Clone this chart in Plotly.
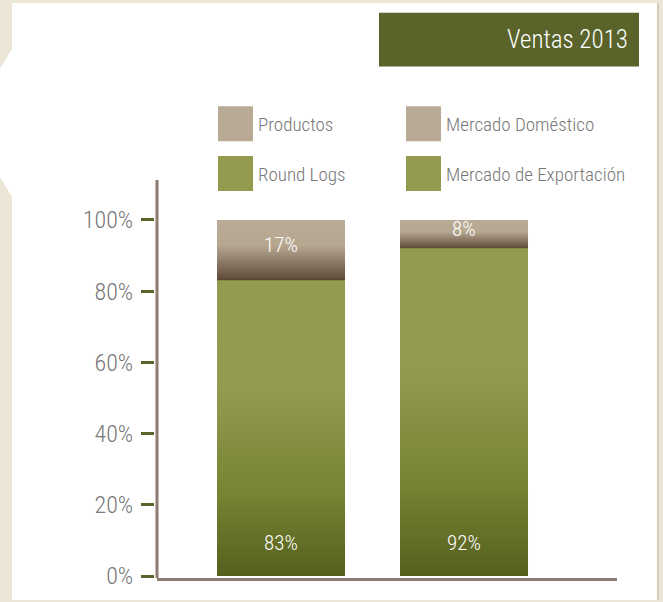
import base64
import plotly.graph_objects as go

# ---------------------------------------------------------------------------
# data
# ---------------------------------------------------------------------------
bar_pos = [0, 1]
base_names = ["Round Logs", "Mercado de Exportación"]
base_vals = [83, 92]
top_names = ["Productos", "Mercado Doméstico"]
top_vals = [17, 8]
y_ticks = [0, 20, 40, 60, 80, 100]
y_ticktext = ["0%", "20%", "40%", "60%", "80%", "100%"]
title_text = "Ventas 2013"

# ---------------------------------------------------------------------------
# style
# ---------------------------------------------------------------------------
W, H = 663, 602
ML, MR, MT, MB = 100, 46, 180, 22
PW, PH = W - ML - MR, H - MT - MB
FONT = "Roboto Condensed, Liberation Sans Narrow, DejaVu Sans Condensed, Roboto, sans-serif"
GREEN = "#939a4e"
BROWN = "#b9aa95"
OLIVE = "#59632a"
AXIS = "#8b7b70"
GREY = "#777777"
BEIGE = "#ece6d7"
BAR_W = 0.70


def px_x(x):
    return (x - ML) / PW


def px_y(y):
    return (H - MB - y) / PH


def gradient_svg(stops):
    s = "".join(f'<stop offset="{o}" stop-color="{c}"/>' for o, c in stops)
    svg = ('<svg xmlns="http://www.w3.org/2000/svg" width="10" height="100" '
           'preserveAspectRatio="none"><defs><linearGradient id="g" x1="0" y1="0" x2="0" y2="1">'
           f'{s}</linearGradient></defs><rect width="10" height="100" fill="url(#g)"/></svg>')
    return "data:image/svg+xml;base64," + base64.b64encode(svg.encode()).decode()


GREEN_GRAD = gradient_svg([(0, "#949b50"), (0.38, "#929a4e"), (0.72, "#788333"), (1, "#55601e")])
BROWN_GRAD = gradient_svg([(0, "#baab96"), (0.42, "#b6a791"), (0.97, "#624d3d"), (1, "#4e3b2e")])

fig = go.Figure()
for i in range(len(bar_pos)):
    fig.add_trace(go.Bar(x=[bar_pos[i]], y=[base_vals[i]], name=base_names[i],
                         width=BAR_W, marker=dict(color=GREEN, line=dict(width=0)),
                         hoverinfo="name+y"))
    fig.add_trace(go.Bar(x=[bar_pos[i]], y=[top_vals[i]], name=top_names[i],
                         width=BAR_W, marker=dict(color=BROWN, line=dict(width=0)),
                         hoverinfo="name+y"))

# gradient skins laid over the bars (same data coordinates)
images = []
for i in range(len(bar_pos)):
    images.append(dict(source=GREEN_GRAD, xref="x", yref="y", x=bar_pos[i] - BAR_W / 2,
                       y=base_vals[i], sizex=BAR_W, sizey=base_vals[i],
                       sizing="stretch", layer="above", xanchor="left", yanchor="top"))
    images.append(dict(source=BROWN_GRAD, xref="x", yref="y", x=bar_pos[i] - BAR_W / 2,
                       y=base_vals[i] + top_vals[i], sizex=BAR_W, sizey=top_vals[i],
                       sizing="stretch", layer="above", xanchor="left", yanchor="top"))

LIGHT = dict(family=FONT, weight=300)

annotations = []
for i in range(len(bar_pos)):
    annotations.append(dict(x=bar_pos[i], y=0, xref="x", yref="y", yshift=33,
                            text=f"{base_vals[i]}%", showarrow=False, yanchor="middle",
                            font=dict(**LIGHT, size=21, color="white")))
    annotations.append(dict(x=bar_pos[i], y=base_vals[i] + top_vals[i] / 2, xref="x", yref="y",
                            yshift=5, text=f"{top_vals[i]}%", showarrow=False, yanchor="middle",
                            font=dict(**LIGHT, size=21, color="white")))

# title box
annotations.append(dict(x=px_x(630), y=px_y(39), xref="paper", yref="paper", text=title_text,
                        showarrow=False, xanchor="right", yanchor="middle",
                        font=dict(**LIGHT, size=25, color="white")))

# legend (hand placed)
legend_items = [(top_names[0], BROWN, 218, 106), (top_names[1], BROWN, 406, 106),
                (base_names[0], GREEN, 218, 156), (base_names[1], GREEN, 406, 156)]
shapes = [
    # white panel with the notch on the left
    dict(type="path", xref="paper", yref="paper", layer="below", line=dict(width=0),
         fillcolor="white",
         path=(f"M {px_x(12)} {px_y(2)} L {px_x(657)} {px_y(2)} L {px_x(657)} {px_y(602)} "
               f"L {px_x(12)} {px_y(602)} L {px_x(12)} {px_y(197)} L {px_x(0)} {px_y(177)} "
               f"L {px_x(0)} {px_y(68)} L {px_x(12)} {px_y(48)} Z")),
    dict(type="line", xref="paper", yref="paper", x0=px_x(658), x1=px_x(658), y0=px_y(2),
         y1=px_y(602), line=dict(color="#d4ceb8", width=2), layer="below"),
    dict(type="rect", xref="paper", yref="paper", x0=px_x(379), x1=px_x(639),
         y0=px_y(66), y1=px_y(12), fillcolor=OLIVE, line=dict(width=0)),
    # vertical axis line
    dict(type="line", xref="paper", yref="paper", x0=px_x(157), x1=px_x(157),
         y0=px_y(580), y1=1, line=dict(color=AXIS, width=3)),
]
for name, col, x0, y0 in legend_items:
    shapes.append(dict(type="rect", xref="paper", yref="paper", x0=px_x(x0), x1=px_x(x0 + 35),
                       y0=px_y(y0 + 35), y1=px_y(y0), fillcolor=col, line=dict(width=0)))
    annotations.append(dict(x=px_x(x0 + 38), y=px_y(y0 + 18), xref="paper", yref="paper",
                            text=name, showarrow=False, xanchor="left", yanchor="middle",
                            font=dict(**LIGHT, size=19, color=GREY)))

fig.update_layout(
    width=W, height=H,
    margin=dict(l=ML, r=MR, t=MT, b=MB),
    paper_bgcolor=BEIGE, plot_bgcolor="rgba(0,0,0,0)",
    barmode="stack", showlegend=False,
    xaxis=dict(domain=[px_x(157), 1], range=[-0.678, 1.836], showticklabels=False,
               showgrid=False, zeroline=False, showline=True, linecolor=AXIS, linewidth=3,
               ticks=""),
    yaxis=dict(range=[-0.56, 111.2], anchor="free", position=px_x(154),
               tickvals=y_ticks, ticktext=y_ticktext, ticks="outside", ticklen=13,
               tickwidth=3, tickcolor=OLIVE, showgrid=False, zeroline=False, showline=False,
               ticklabelstandoff=3,
               tickfont=dict(**LIGHT, size=24, color=GREY)),
    images=images, shapes=shapes, annotations=annotations,
    font=dict(family=FONT),
)

fig.write_html("out.html", config={"displayModeBar": False},
               post_script="document.body.style.margin='0';")
